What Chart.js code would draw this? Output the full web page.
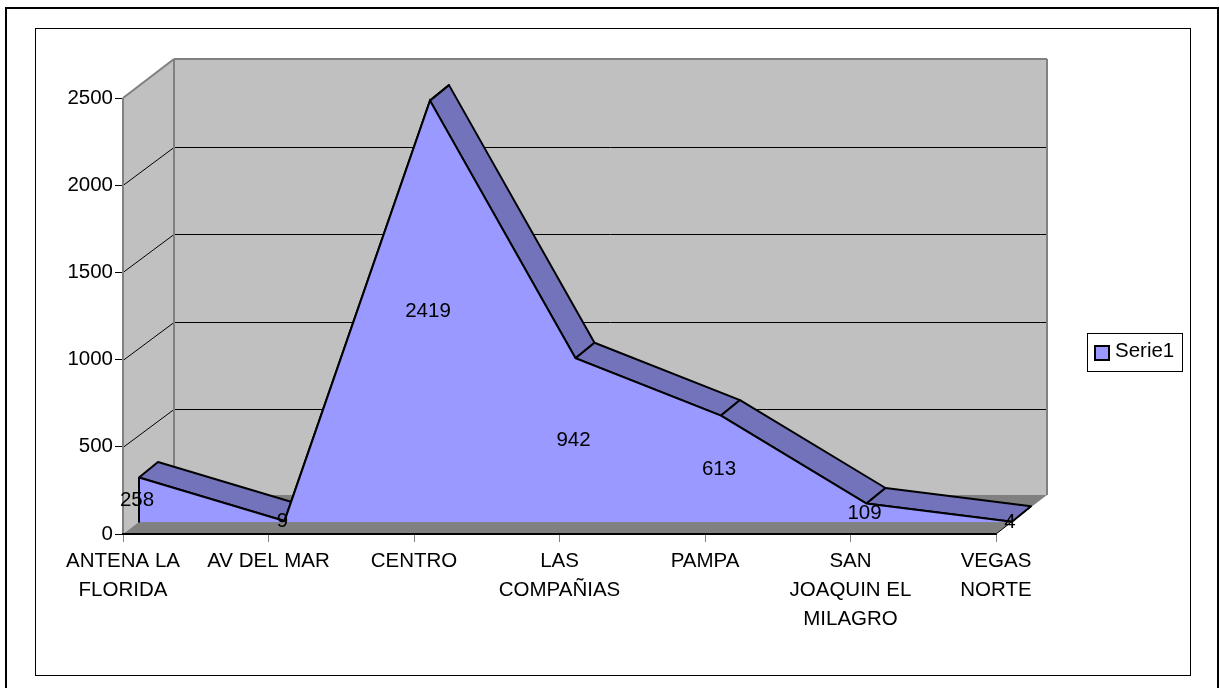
<!DOCTYPE html>
<html>
<head>
<meta charset="utf-8">
<style>
html, body { margin: 0; padding: 0; background: #fff; }
#wrap { position: relative; width: 1220px; height: 688px; }
</style>
<script src="https://cdn.jsdelivr.net/npm/chart.js@4"></script>
</head>
<body>
<div id="wrap"><canvas id="areaChart" width="1220" height="688"></canvas></div>
<script>
const categories = [
    ["ANTENA LA", "FLORIDA"],
    "AV DEL MAR",
    "CENTRO",
    ["LAS", "COMPAÑIAS"],
    "PAMPA",
    ["SAN", "JOAQUIN EL", "MILAGRO"],
    ["VEGAS", "NORTE"]
];
const serie1 = [258, 9, 2419, 942, 613, 109, 4];
const yTicks = [0, 500, 1000, 1500, 2000, 2500];
const seriesName = "Serie1";

const FONT = '20.5px "Liberation Sans", Arial, sans-serif';
const WALL = "#c0c0c0", FLOOR = "#808080", EDGE = "#808080";
const FILL = "#9999ff", TOP = "#7373bb";
// offsets of the fake 3d depth
const wallDx = 51, wallDy = -39, gridDy = -38;
const serieDx = 16, serieDy = -11.5;
const topDx = 19, topDy = -15.5;

function line(ctx, x1, y1, x2, y2, color, w) {
    ctx.strokeStyle = color;
    ctx.lineWidth = w;
    ctx.beginPath();
    ctx.moveTo(x1, y1);
    ctx.lineTo(x2, y2);
    ctx.stroke();
}

function poly(ctx, pts, fill) {
    ctx.fillStyle = fill;
    ctx.beginPath();
    pts.forEach((p, i) => i ? ctx.lineTo(p[0], p[1]) : ctx.moveTo(p[0], p[1]));
    ctx.closePath();
    ctx.fill();
}

const depth3d = {
    id: "depth3d",
    beforeDraw(chart) {
        const ctx = chart.ctx;
        ctx.save();
        ctx.fillStyle = "#fff";
        ctx.fillRect(0, 0, 1220, 688);
        // outer and inner frame
        ctx.strokeStyle = "#000";
        ctx.lineWidth = 2;
        ctx.beginPath();
        ctx.moveTo(6, 688);
        ctx.lineTo(6, 8);
        ctx.lineTo(1218, 8);
        ctx.lineTo(1218, 688);
        ctx.stroke();
        ctx.lineWidth = 1;
        ctx.strokeRect(35.5, 28.5, 1155, 647);
        ctx.restore();
    },
    beforeDatasetsDraw(chart) {
        const ctx = chart.ctx, a = chart.chartArea;
        const x = chart.scales.x, y = chart.scales.y;
        ctx.save();
        // side wall, back wall, floor
        poly(ctx, [[a.left, a.top], [a.left + wallDx, a.top + wallDy], [a.left + wallDx, a.bottom + wallDy], [a.left, a.bottom]], WALL);
        poly(ctx, [[a.left + wallDx, a.top + wallDy], [a.right + wallDx, a.top + wallDy], [a.right + wallDx, a.bottom + wallDy], [a.left + wallDx, a.bottom + wallDy]], WALL);
        poly(ctx, [[a.left, a.bottom], [a.left + wallDx, a.bottom + wallDy], [a.right + wallDx, a.bottom + wallDy], [a.right, a.bottom]], FLOOR);
        yTicks.forEach(v => {
            const py = Math.round(y.getPixelForValue(v)) + 0.5;
            if (v > 0 && v < yTicks[yTicks.length - 1]) {
                line(ctx, a.left, py, a.left + wallDx, py + gridDy, "#000", 1);
                line(ctx, a.left + wallDx, py + gridDy, a.right + wallDx, py + gridDy, "#000", 1);
            }
        });
        line(ctx, a.left, a.top, a.left + wallDx, a.top + wallDy, EDGE, 2);
        line(ctx, a.left + wallDx, a.top + wallDy, a.right + wallDx, a.top + wallDy, EDGE, 2);
        line(ctx, a.left + wallDx, a.top + wallDy, a.left + wallDx, a.bottom + wallDy, EDGE, 2);
        line(ctx, a.right + wallDx, a.top + wallDy, a.right + wallDx, a.bottom + wallDy, EDGE, 2);
        line(ctx, a.left, a.top, a.left, a.bottom, EDGE, 2);

        // top strip of the area, the front fill covers the rising part
        ctx.lineJoin = "round";
        for (let i = 0; i < serie1.length - 1; i++) {
            const x1 = x.getPixelForValue(i) + serieDx, y1 = y.getPixelForValue(serie1[i]) + serieDy;
            const x2 = x.getPixelForValue(i + 1) + serieDx, y2 = y.getPixelForValue(serie1[i + 1]) + serieDy;
            poly(ctx, [[x1, y1], [x2, y2], [x2 + topDx, y2 + topDy], [x1 + topDx, y1 + topDy]], TOP);
            ctx.strokeStyle = "#000";
            ctx.lineWidth = 2;
            ctx.stroke();
        }
        ctx.restore();

        // the dataset itself sits on the front plane of the area
        ctx.save();
        ctx.translate(serieDx, serieDy);
    },
    afterDatasetsDraw(chart) {
        const ctx = chart.ctx, a = chart.chartArea;
        const x = chart.scales.x, y = chart.scales.y;
        ctx.restore();
        ctx.save();
        const x0 = x.getPixelForValue(0) + serieDx;
        line(ctx, x0, y.getPixelForValue(serie1[0]) + serieDy, x0, a.bottom + serieDy, "#000", 2);
        // floor edges drawn after the area
        line(ctx, a.left - 1, a.bottom, a.right, a.bottom, "#000", 2);
        line(ctx, a.right, a.bottom, a.right + wallDx - 15, a.bottom + wallDy + 11, "#000", 1);
        // data labels
        ctx.font = FONT;
        ctx.fillStyle = "#000";
        ctx.textAlign = "center";
        ctx.textBaseline = "middle";
        serie1.forEach((v, i) => {
            ctx.fillText(String(v), x.getPixelForValue(i) + serieDx - 2, y.getPixelForValue(v / 2) + serieDy);
        });
        // legend
        ctx.strokeStyle = "#000";
        ctx.lineWidth = 1;
        ctx.strokeRect(1087.5, 333.5, 95, 38);
        ctx.fillStyle = FILL;
        ctx.fillRect(1095, 346, 14, 14);
        ctx.lineWidth = 2;
        ctx.strokeRect(1095, 346, 14, 14);
        ctx.fillStyle = "#000";
        ctx.textAlign = "left";
        ctx.fillText(seriesName, 1115, 351);
        ctx.restore();
    }
};

new Chart(document.getElementById("areaChart"), {
    type: "line",
    data: {
        labels: categories,
        datasets: [{
            label: seriesName,
            data: serie1,
            borderColor: "#000",
            borderWidth: 2,
            backgroundColor: FILL,
            fill: "origin",
            tension: 0,
            pointRadius: 0,
            clip: false
        }]
    },
    options: {
        responsive: false,
        animation: false,
        layout: { padding: { top: 98, right: 224, left: 0, bottom: 0 } },
        plugins: { legend: { display: false }, tooltip: { enabled: false } },
        scales: {
            x: {
                offset: false,
                afterFit(s) { s.height = 154; },
                grid: { drawOnChartArea: false, color: "#808080", tickLength: 8 },
                border: { color: "#000" },
                ticks: {
                    color: "#000",
                    maxRotation: 0,
                    autoSkip: false,
                    padding: 5,
                    font: { family: '"Liberation Sans"', size: 20.5, lineHeight: 1.415 }
                }
            },
            y: {
                min: 0,
                max: 2500,
                afterFit(s) { s.width = 123; },
                afterBuildTicks(s) { s.ticks = yTicks.map(v => ({ value: v })); },
                grid: { drawOnChartArea: false, color: "#000", tickLength: 8 },
                border: { color: EDGE },
                ticks: {
                    color: "#000",
                    padding: 2,
                    callback: v => String(v),
                    font: { family: '"Liberation Sans"', size: 20.5 }
                }
            }
        }
    },
    plugins: [depth3d]
});
</script>
</body>
</html>
